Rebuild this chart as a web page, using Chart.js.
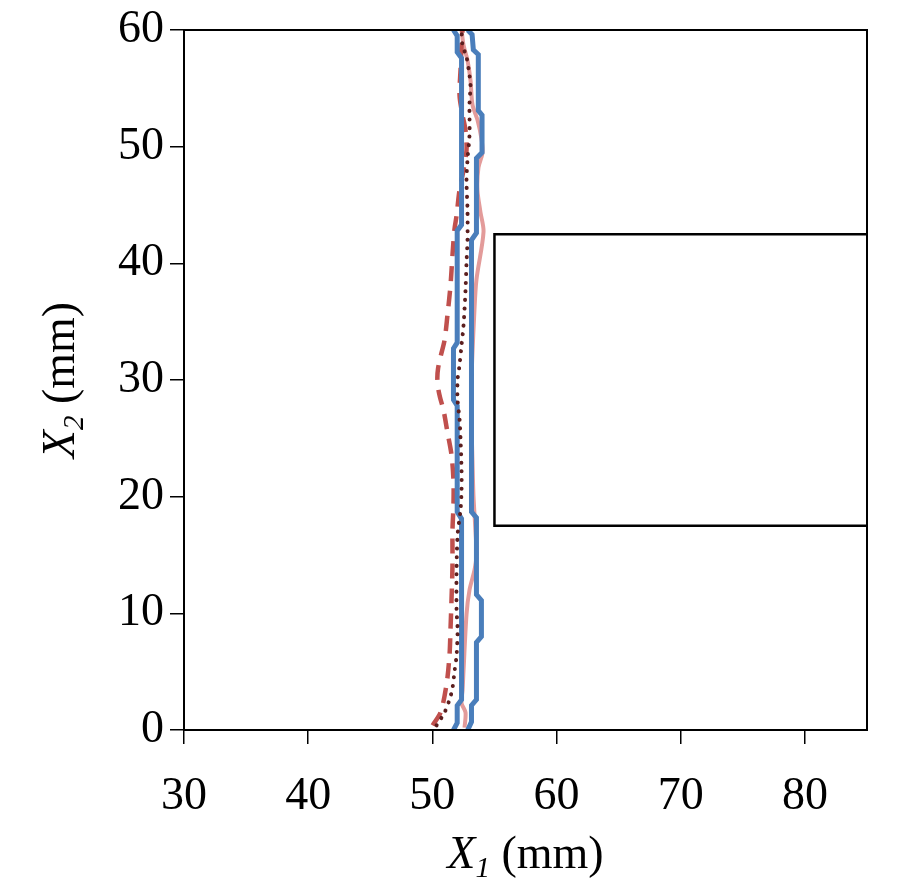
<!DOCTYPE html>
<html>
<head>
<meta charset="utf-8">
<script src="https://cdn.jsdelivr.net/npm/chart.js@4.4.1/dist/chart.umd.min.js"></script>
<style>
  html, body { margin: 0; padding: 0; background: #fff; }
  #wrap { width: 910px; height: 886px; position: relative; }
</style>
</head>
<body>
<div id="wrap"><canvas id="contourChart" width="910" height="886"></canvas></div>
<script>
// ================= DATA =================
const xTicks = [30, 40, 50, 60, 70, 80];
const yTicks = [0, 10, 20, 30, 40, 50, 60];

// blue staircase, left edge
const blueLeftX = [51.7, 52.0, 52.0, 52.35, 52.35, 52.0, 52.0, 51.7, 51.7, 52.0, 52.0, 52.35, 52.35, 52.0, 52.0, 51.7];
const blueLeftY = [0, 0.6, 2.1, 2.6, 18.1, 18.7, 27.8, 28.3, 32.7, 33.2, 42.8, 43.3, 57.6, 58.1, 59.5, 60];

// blue staircase, right edge
const blueRightX = [52.85, 53.15, 53.15, 53.55, 53.55, 53.95, 53.95, 53.55, 53.55, 53.15, 53.15, 53.55, 53.55, 54.0, 54.0, 53.7, 53.7, 53.3, 53.2, 52.85];
const blueRightY = [0, 0.7, 2.1, 2.6, 7.5, 8.0, 11.1, 11.6, 18.2, 18.7, 42.0, 42.6, 49.0, 49.5, 52.7, 53.1, 57.9, 58.3, 59.6, 60];

// light red solid
const pinkX = [52.59, 52.67, 52.35, 52.43, 52.51, 52.75, 52.99, 53.39, 53.55, 53.47, 53.31, 53.23, 53.15, 53.15, 53.39, 53.55, 54.12, 53.87, 53.63, 53.71, 54.04, 53.95, 53.63, 53.23, 53.07, 52.83, 52.51, 52.35];
const pinkY = [0.2, 1.5, 2.3, 3.4, 5.1, 9.9, 12.0, 13.7, 15.0, 17.1, 20.1, 23.1, 26.6, 30.0, 36.0, 38.6, 42.7, 44.4, 46.3, 48.2, 49.5, 50.7, 52.3, 53.6, 55.7, 57.4, 58.7, 60];

// red dashed
const dashX = [50.02, 50.66, 51.14, 51.38, 51.46, 51.54, 51.62, 51.62, 51.70, 51.70, 51.54, 51.22, 50.90, 50.62, 50.45, 50.40, 50.46, 50.66, 50.98, 51.22, 51.46, 51.62, 51.78, 51.95, 52.19, 52.51, 52.75, 52.67, 52.43, 52.19, 52.27, 52.35, 52.43];
const dashY = [0.4, 1.5, 3.9, 6.4, 8.6, 11.1, 14.1, 17.1, 19.3, 21.4, 23.6, 25.5, 27.4, 28.5, 29.4, 30.2, 31.0, 32.0, 33.4, 35.6, 38.1, 40.7, 42.9, 44.1, 46.3, 48.0, 49.7, 51.4, 52.7, 54.4, 56.6, 58.7, 60];

// dark dotted
const dotX = [50.34, 50.98, 51.38, 51.62, 51.78, 51.95, 52.03, 51.95, 51.95, 52.03, 52.27, 52.35, 52.35, 52.27, 52.19, 52.03, 52.03, 52.19, 52.35, 52.51, 52.67, 52.75, 52.83, 52.83, 52.75, 52.83, 52.99, 52.99, 53.07, 52.99, 52.75, 52.43, 52.35];
const dotY = [0.4, 1.5, 2.6, 3.6, 5.0, 6.4, 8.6, 10.3, 13.7, 16.7, 18.9, 20.6, 22.3, 24.9, 26.6, 28.3, 30.0, 31.3, 33.0, 34.7, 37.7, 40.1, 42.0, 44.6, 47.1, 48.9, 51.0, 53.6, 55.3, 56.1, 57.7, 58.7, 60];

// black rectangle (open on the right)
const rectX = [85, 55, 55, 85];
const rectY = [42.5, 42.5, 17.5, 17.5];

// ================= HELPERS =================
function pts(xs, ys) {
  return xs.map((x, i) => ({ x: x, y: ys[i] }));
}

const serif = "'Liberation Serif', 'Times New Roman', serif";

// frame + axis titles
const framePlugin = {
  id: "frame",
  afterDraw(chart) {
    const ctx = chart.ctx;
    const a = chart.chartArea;
    ctx.save();
    ctx.strokeStyle = "#000";
    ctx.lineWidth = 2;
    ctx.strokeRect(a.left, a.top, a.right - a.left, a.bottom - a.top);

    ctx.fillStyle = "#000";
    ctx.textBaseline = "alphabetic";

    // x title
    drawTitle(ctx, "1", (a.left + a.right) / 2, 868);

    // y title
    ctx.translate(74, (a.top + a.bottom) / 2);
    ctx.rotate(-Math.PI / 2);
    drawTitle(ctx, "2", 0, 0);
    ctx.restore();
  }
};

function drawTitle(ctx, sub, cx, baseY) {
  const big = "italic 46px " + serif;
  const small = "italic 29px " + serif;
  const norm = "46px " + serif;
  ctx.font = big;
  const w1 = ctx.measureText("X").width;
  ctx.font = small;
  const w2 = ctx.measureText(sub).width;
  ctx.font = norm;
  const w3 = ctx.measureText(" (mm)").width;
  let x = cx - (w1 + w2 + w3) / 2;
  ctx.textAlign = "left";
  ctx.font = big;
  ctx.fillText("X", x, baseY);
  x += w1;
  ctx.font = small;
  ctx.fillText(sub, x, baseY + 9);
  x += w2;
  ctx.font = norm;
  ctx.fillText(" (mm)", x, baseY);
}

// ================= CHART =================
new Chart(document.getElementById("contourChart"), {
  type: "scatter",
  data: {
    datasets: [
      {
        label: "dotted",
        data: pts(dotX, dotY),
        showLine: true,
        borderColor: "#5b1e1e",
        borderWidth: 4,
        borderDash: [0.1, 8.5],
        borderCapStyle: "round",
        tension: 0.3,
        pointRadius: 0,
        order: 0
      },
      {
        label: "blue left",
        data: pts(blueLeftX, blueLeftY),
        showLine: true,
        borderColor: "#4a7ebb",
        borderWidth: 5,
        pointRadius: 0,
        order: 1
      },
      {
        label: "blue right",
        data: pts(blueRightX, blueRightY),
        showLine: true,
        borderColor: "#4a7ebb",
        borderWidth: 5,
        pointRadius: 0,
        order: 1
      },
      {
        label: "dashed",
        data: pts(dashX, dashY),
        showLine: true,
        borderColor: "#c0504d",
        borderWidth: 4.5,
        borderDash: [15, 10],
        tension: 0.3,
        pointRadius: 0,
        order: 2
      },
      {
        label: "pink",
        data: pts(pinkX, pinkY),
        showLine: true,
        borderColor: "#e39b9a",
        borderWidth: 4,
        tension: 0.3,
        pointRadius: 0,
        order: 3
      },
      {
        label: "rect",
        data: pts(rectX, rectY),
        showLine: true,
        borderColor: "#000",
        borderWidth: 2.5,
        pointRadius: 0,
        order: 4
      }
    ]
  },
  options: {
    responsive: false,
    animation: false,
    layout: { padding: { left: 0, right: 43, top: 30, bottom: 0 } },
    plugins: {
      legend: { display: false },
      tooltip: { enabled: false }
    },
    scales: {
      x: {
        type: "linear",
        min: 30,
        max: 85,
        afterBuildTicks: (s) => { s.ticks = xTicks.map(v => ({ value: v })); },
        afterFit: (s) => { s.height = 156; },
        grid: { display: true, drawOnChartArea: false, drawTicks: true, tickLength: 14, color: "#000", lineWidth: 1.5 },
        border: { display: true, color: "#000", width: 2 },
        ticks: { color: "#000", font: { family: serif, size: 46, lineHeight: 1 }, padding: 30, maxRotation: 0 }
      },
      y: {
        type: "linear",
        min: 0,
        max: 60,
        afterBuildTicks: (s) => { s.ticks = yTicks.map(v => ({ value: v })); },
        afterFit: (s) => { s.width = 184; },
        grid: { display: true, drawOnChartArea: false, drawTicks: true, tickLength: 14, color: "#000", lineWidth: 1.5 },
        border: { display: true, color: "#000", width: 2 },
        ticks: { color: "#000", font: { family: serif, size: 46, lineHeight: 1 }, padding: 6 }
      }
    }
  },
  plugins: [framePlugin]
});
</script>
</body>
</html>
